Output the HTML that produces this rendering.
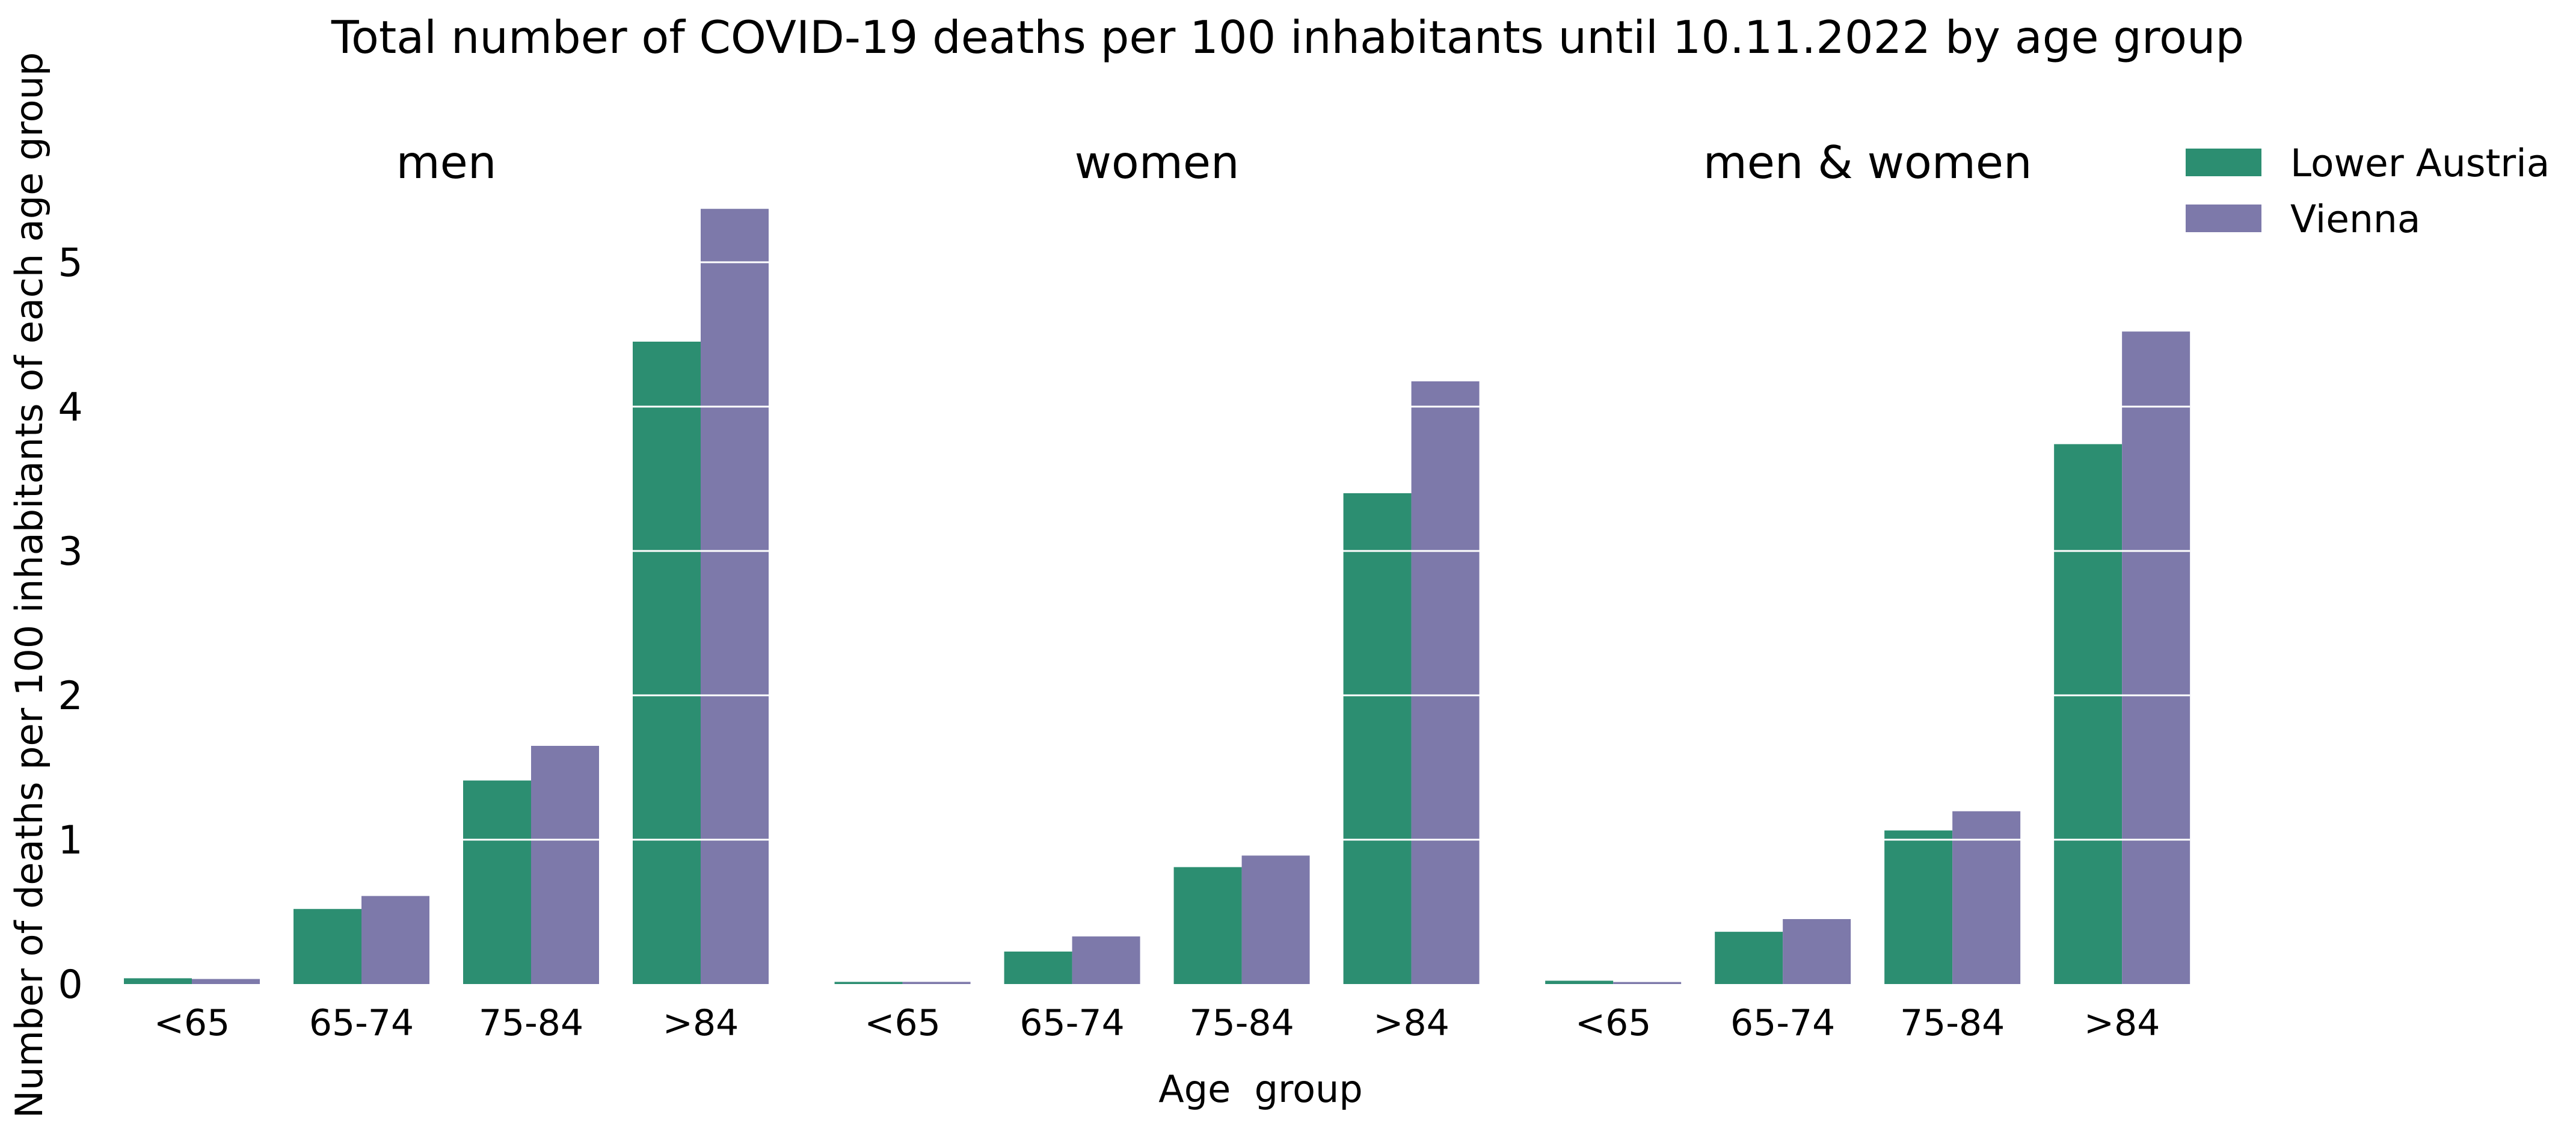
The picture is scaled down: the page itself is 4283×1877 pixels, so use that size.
<!DOCTYPE html>
<html><head><meta charset="utf-8"><style>
html,body{margin:0;padding:0;background:#fff;}
svg text{font-family:"DejaVu Sans","Liberation Sans",sans-serif;fill:#000;white-space:pre;}
</style></head><body>
<svg id="chart" width="4283" height="1872" viewBox="0 0 4283 1872" xmlns="http://www.w3.org/2000/svg">
<text x="2141" y="88" font-size="75" text-anchor="middle">Total number of COVID-19 deaths per 100 inhabitants until 10.11.2022 by age group</text>
<text transform="translate(70,973) rotate(-90)" font-size="62" text-anchor="middle">Number of deaths per 100 inhabitants of each age group</text>
<text x="2096" y="1832" font-size="62" text-anchor="middle" xml:space="preserve">Age  group</text>
<g id="bars"></g>
<g id="grid"></g>
<g id="labels"></g>
<g>
<rect x="3634" y="247" width="126" height="46" fill="#2c8e71"/>
<text x="3808" y="293" font-size="63">Lower Austria</text>
<rect x="3634" y="340" width="126" height="46" fill="#7d79aa"/>
<text x="3808" y="386" font-size="63">Vienna</text>
</g>
</svg>
<script>
const categories = ["<65","65-74","75-84",">84"];
const panels = ["men","women","men & women"];
const lowerAustria = [[0.04,0.52,1.41,4.45],[0.015,0.225,0.81,3.40],[0.023,0.362,1.064,3.74]];
const vienna = [[0.035,0.61,1.65,5.37],[0.015,0.33,0.89,4.175],[0.014,0.45,1.197,4.52]];
const yTicks = [0,1,2,3,4,5];

const NS="http://www.w3.org/2000/svg";
const baseY=1636, unit=240, x0=206, step=282, bw=113, panelOffset=4.19;
function yScale(v){return baseY - v*unit;}
function xScale(p,i){return x0 + (p*panelOffset + i)*step;}
function mk(tag, attrs, parent){const e=document.createElementNS(NS,tag);for(const k in attrs)e.setAttribute(k,attrs[k]);parent.appendChild(e);return e;}
const gb=document.getElementById('bars'), gg=document.getElementById('grid'), gl=document.getElementById('labels');
panels.forEach((pn,p)=>{
  categories.forEach((c,i)=>{
    const x=xScale(p,i);
    const a=mk('rect',{x:x,y:yScale(lowerAustria[p][i]),width:bw,height:baseY-yScale(lowerAustria[p][i]),fill:'#2c8e71'},gb);
    
    
    const b=mk('rect',{x:x+bw,y:yScale(vienna[p][i]),width:bw,height:baseY-yScale(vienna[p][i]),fill:'#7d79aa'},gb);
    
    
    const t=mk('text',{x:x+bw,y:1721,'font-size':60,'text-anchor':'middle'},gl);
    t.textContent=c;
    
    
  });
  const cx=(xScale(p,0)+xScale(p,3)+2*bw)/2;
  const st=mk('text',{x:cx,y:296,'font-size':75,'text-anchor':'middle'},gl);
  st.textContent=pn;
  
  
});
yTicks.forEach(v=>{
  const y=yScale(v);
  if(v>0){
    const l=mk('line',{x1:xScale(0,0),x2:xScale(2,3)+2*bw,y1:y,y2:y,stroke:'#fff','stroke-width':3},gg);
    
    
  }
  const t=mk('text',{x:117,y:y+23,'font-size':65,'text-anchor':'middle'},gl);
  t.textContent=v;
  
  
});
</script>
</body></html>
